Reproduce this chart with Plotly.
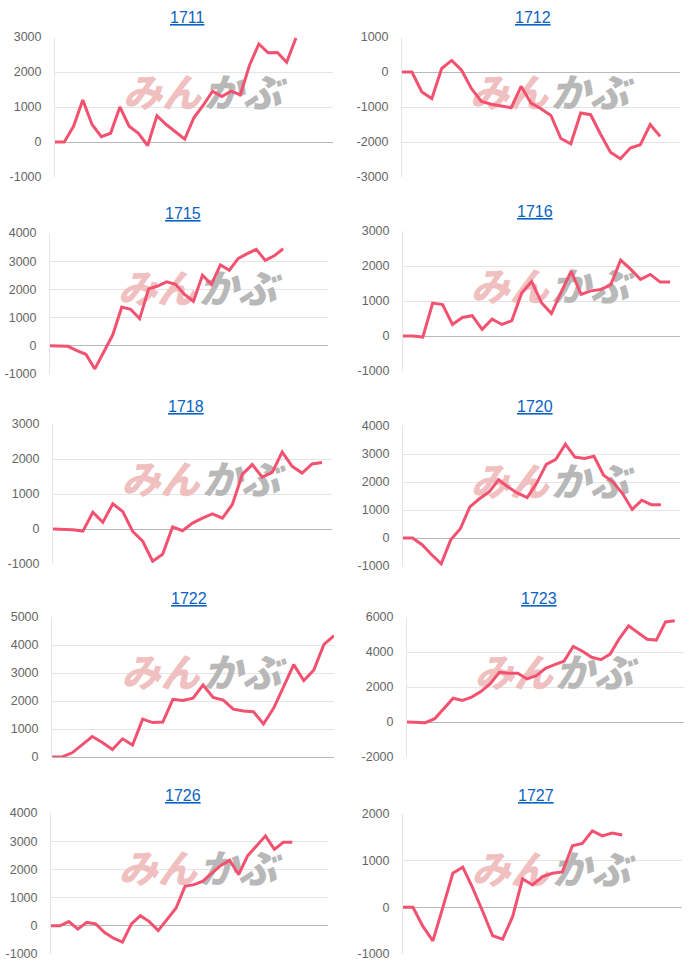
import plotly.graph_objects as go

# ---------------- data ----------------
codes = ["1711", "1712", "1715", "1716", "1718", "1720", "1722", "1723", "1726", "1727"]

s1711 = [0, 0, 450, 1200, 500, 150, 250, 1000, 450, 250, -100, 750, 500, 300, 80,
         700, 1050, 1450, 1300, 1450, 1350, 2200, 2800, 2550, 2560, 2280, 2970]
s1712 = [0, 0, -570, -760, 100, 330, 50, -480, -840, -920, -970, -1020, -410, -890,
         -1050, -1240, -1900, -2050, -1170, -1220, -1780, -2290, -2480, -2170, -2080,
         -1500, -1840]
s1715 = [0, 0, -20, -170, -300, -820, -200, 390, 1370, 1290, 960, 2020, 2120, 2270,
         2180, 1820, 1580, 2500, 2180, 2870, 2680, 3100, 3270, 3420, 3030, 3190, 3440]
s1716 = [0, 0, -30, 940, 900, 330, 530, 580, 190, 480, 330, 440, 1230, 1560, 950, 640,
         1260, 1850, 1190, 1290, 1330, 1460, 2170, 1910, 1620, 1760, 1540, 1540]
s1718 = [0, 0, -20, -60, 480, 190, 720, 500, -70, -350, -920, -720, 60, -50, 170, 310,
         430, 310, 700, 1560, 1840, 1480, 1620, 2200, 1790, 1600, 1860, 1900]
s1720 = [0, 0, -240, -600, -920, -60, 330, 1110, 1400, 1640, 2080, 1820, 1600, 1440,
         1960, 2630, 2810, 3350, 2890, 2840, 2920, 2240, 2000, 1580, 1020, 1350, 1190, 1190]
s1722 = [0, 0, 150, 430, 730, 520, 270, 650, 430, 1350, 1230, 1250, 2060, 2020, 2100,
         2570, 2130, 2030, 1710, 1640, 1620, 1180, 1740, 2510, 3300, 2730, 3110, 4020, 4330]
s1723 = [0, 0, -40, 190, 760, 1360, 1230, 1420, 1740, 2180, 2840, 2790, 2790, 2460, 2650,
         3070, 3280, 3470, 4320, 4040, 3700, 3560, 3880, 4770, 5500, 5110, 4730, 4680,
         5720, 5780]
s1726 = [0, 0, 150, -120, 120, 70, -240, -440, -580, 70, 360, 150, -170, 240, 630, 1400,
         1460, 1580, 1860, 2140, 2320, 1820, 2480, 2830, 3190, 2710, 2960, 2960]
s1727 = [0, 0, -410, -720, 0, 730, 860, 410, -90, -610, -680, -200, 610, 480, 660, 730,
         760, 1320, 1370, 1640, 1530, 1590, 1550]

series = [s1711, s1712, s1715, s1716, s1718, s1720, s1722, s1723, s1726, s1727]

# number of category slots on each chart's x axis
slots = [31, 29, 32, 29, 29, 30, 29, 31, 32, 29]

# y-axis tick settings
y_min = [-1000, -3000, -1000, -1000, -1000, -1000, 0, -2000, -1000, -1000]
y_max = [3000, 1000, 4000, 3000, 3000, 4000, 5000, 6000, 4000, 2000]
y_step = [1000, 1000, 1000, 1000, 1000, 1000, 1000, 2000, 1000, 1000]

# ---------------- layout (pixel boxes: left, right, top, bottom) ----------------
W, H = 700, 971
boxes = [
    (55, 333, 37, 177), (402, 680, 37, 177),
    (50, 328, 233, 374), (403, 680, 231, 371),
    (53, 332, 424, 564), (403, 680, 426, 566),
    (52, 334, 617, 757), (407, 684, 617, 757),
    (51, 328, 813, 954), (403, 682, 814, 954),
]
title_pos = [(187, 18), (533, 18), (183, 214), (535, 212), (186, 406),
             (535, 406), (189, 598), (539, 598), (183, 795), (536, 795)]

LINE = "rgb(242,82,112)"
fig = go.Figure()
annotations = []
layout = dict(
    width=W, height=H, margin=dict(l=0, r=0, t=0, b=0, autoexpand=False),
    paper_bgcolor="white", plot_bgcolor="white", showlegend=False,
)

for i, code in enumerate(codes):
    k = "" if i == 0 else str(i + 1)
    l, r, t, b = boxes[i]
    xa, ya = "x" + k, "y" + k
    n = slots[i]
    vals = series[i]
    ymn, ymx, st = y_min[i], y_max[i], y_step[i]
    tickvals = list(range(ymn, ymx + 1, st))
    ticktext = [str(v) for v in tickvals]

    # watermark (drawn under the line)
    wy = ymn + 0.57 * (ymx - ymn)
    fig.add_trace(go.Scatter(
        x=[0.385 * (n - 1)], y=[wy], xaxis=xa, yaxis=ya, mode="text", text=["みん"],
        textfont=dict(family="Noto Sans CJK JP", size=39, color="#f0c0c0",
                      weight=900, style="italic"),
        hoverinfo="skip", cliponaxis=False))
    fig.add_trace(go.Scatter(
        x=[0.675 * (n - 1)], y=[wy], xaxis=xa, yaxis=ya, mode="text", text=["かぶ"],
        textfont=dict(family="Noto Sans CJK JP", size=39, color="#b8b8b8",
                      weight=900, style="italic"),
        hoverinfo="skip", cliponaxis=False))

    fig.add_trace(go.Scatter(
        x=list(range(len(vals))), y=vals, xaxis=xa, yaxis=ya, mode="lines",
        line=dict(color=LINE, width=3), hoverinfo="skip"))

    layout["xaxis" + k] = dict(
        domain=[l / W, r / W], anchor=ya, range=[0, n - 1], automargin=False,
        showgrid=False, zeroline=False, showticklabels=False, showline=False,
        fixedrange=True)
    layout["yaxis" + k] = dict(
        domain=[1 - b / H, 1 - t / H], anchor=xa, range=[ymn, ymx], automargin=False,
        tickmode="array", tickvals=tickvals, ticktext=ticktext,
        showgrid=True, gridcolor="rgba(0,0,0,0.1)",
        gridwidth=1, zeroline=True, zerolinecolor="rgba(0,0,0,0.28)", zerolinewidth=1,
        showline=True, linecolor="rgba(0,0,0,0.1)", linewidth=1,
        ticks="outside", ticklen=10, tickcolor="rgba(0,0,0,0)",
        tickfont=dict(family="Liberation Sans, Arial, sans-serif", size=12.5, color="#666"),
        fixedrange=True)

    tx, ty = title_pos[i]
    annotations.append(dict(
        x=tx / W, y=1 - ty / H, xref="paper", yref="paper", showarrow=False,
        text="<u>" + code + "</u>", xanchor="center", yanchor="middle",
        font=dict(family="Liberation Sans, Arial, sans-serif", size=16, color="#0b62c4")))

layout["annotations"] = annotations
fig.update_layout(**layout)
fig.write_html("out.html")
